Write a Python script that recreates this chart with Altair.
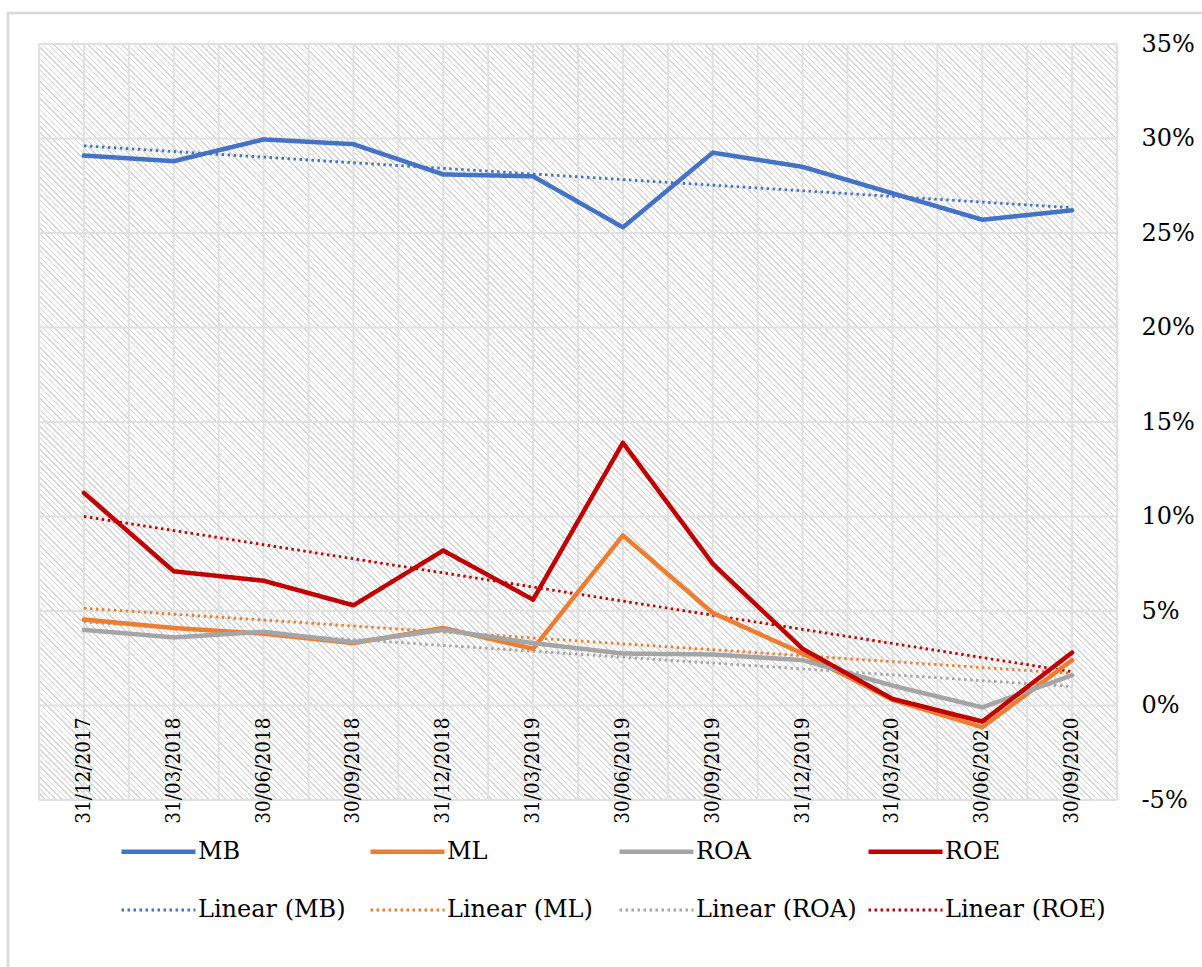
import math
import altair as alt
import pandas as pd

# ---- data ----
dates = ["31/12/2017", "31/03/2018", "30/06/2018", "30/09/2018", "31/12/2018", "31/03/2019",
         "30/06/2019", "30/09/2019", "31/12/2019", "31/03/2020", "30/06/2020", "30/09/2020"]
mb = [29.1, 28.8, 29.95, 29.7, 28.1, 28.0, 25.3, 29.25, 28.5, 27.1, 25.7, 26.2]
ml = [4.55, 4.1, 3.8, 3.3, 4.1, 3.0, 9.0, 4.9, 2.75, 0.3, -1.15, 2.4]
roa = [4.0, 3.6, 3.9, 3.35, 4.0, 3.3, 2.75, 2.7, 2.4, 1.05, -0.1, 1.6]
roe = [11.25, 7.1, 6.6, 5.3, 8.2, 5.6, 13.9, 7.5, 3.0, 0.35, -0.85, 2.8]
series_names = ["MB", "ML", "ROA", "ROE"]
trend_names = ["Linear (MB)", "Linear (ML)", "Linear (ROA)", "Linear (ROE)"]
colors = ["#4472C4", "#ED7D31", "#A5A5A5", "#C00000"]
y_ticks = [-5, 0, 5, 10, 15, 20, 25, 30, 35]

rows = []
for name, vals in zip(series_names, [mb, ml, roa, roe]):
    for i, v in enumerate(vals):
        rows.append({"series": name, "idx": i, "value": v})
df = pd.DataFrame(rows)
labels_df = pd.DataFrame({"idx": list(range(len(dates))), "date": dates})
hgrid_df = pd.DataFrame({"value": y_ticks})
vgrid_df = pd.DataFrame({"idx": [i / 2 - 0.5 for i in range(2 * len(dates) + 1)]})
one = pd.DataFrame({"a": [0]})

W, H = 1078, 756
FONT_X = "DejaVu Serif Condensed, DejaVu Serif"
FONT = "DejaVu Serif"

# ---- hatched background as a striped linear gradient ----
t = (W + H) / (W * W + H * H)
L = (W + H) / math.sqrt(2)
period, lw = 4.0, 1.0
n = int(L / period)
stops = []
for k in range(n):
    a = k / n
    b = (k + lw / period) / n
    stops += [alt.GradientStop(offset=a, color="#d6d6d6"),
              alt.GradientStop(offset=b, color="#d6d6d6"),
              alt.GradientStop(offset=b, color="#ffffff"),
              alt.GradientStop(offset=(k + 1) / n, color="#ffffff")]
hatch_grad = alt.LinearGradient(gradient="linear", stops=stops,
                                x1=0, y1=1, x2=t * W, y2=1 - t * H)

xscale = alt.Scale(domain=[-0.5, len(dates) - 0.5], nice=False, zero=False)
yscale = alt.Scale(domain=[-5, 35], nice=False, zero=False)

all_names = series_names + trend_names
legend = alt.Legend(title=None, orient="none", legendX=107, legendY=795,
                    direction="horizontal", columns=4, gridAlign="all", padding=0,
                    symbolType="M-3.7,0H3.7", symbolSize=400,
                    labelFont=FONT, labelFontSize=24, labelColor="black", labelLimit=400,
                    labelOffset=27, columnPadding=2, rowPadding=34)
color_enc = alt.Color("series:N", scale=alt.Scale(domain=all_names, range=colors + colors), legend=legend)
dash_enc = alt.StrokeDash("series:N", scale=alt.Scale(domain=all_names,
                          range=[[1, 0]] * 4 + [[2.5, 3.5]] * 4), legend=legend)
sw_enc = alt.StrokeWidth("series:N", scale=alt.Scale(type="ordinal", domain=all_names,
                         range=[4.5] * 4 + [2.8] * 4), legend=legend)

border = alt.Chart(one).mark_rect(fillOpacity=0, stroke="#d9d9d9", strokeWidth=2.5).encode(
    x=alt.value(-31), x2=alt.value(1300), y=alt.value(-31), y2=alt.value(1100))

hatch = alt.Chart(one).mark_rect(fill=hatch_grad).encode(
    x=alt.value(0), x2=alt.value(W), y=alt.value(0), y2=alt.value(H))

hgrid = alt.Chart(hgrid_df).mark_rule(color="#e0e0e0", strokeWidth=2).encode(
    y=alt.Y("value:Q", scale=yscale,
            axis=alt.Axis(orient="right", values=y_ticks, labelExpr="datum.value + '%'",
                          grid=False, domain=False, ticks=False, title=None,
                          labelFont=FONT, labelFontSize=24, labelColor="black",
                          labelPadding=24, labelAlign="left")))

vgrid = alt.Chart(vgrid_df).mark_rule(color="#e0e0e0", strokeWidth=2).encode(
    x=alt.X("idx:Q", scale=xscale, axis=None))

xlabels = alt.Chart(labels_df).mark_text(angle=270, align="right", baseline="middle", dx=-12,
                                         font=FONT_X, fontSize=20.5, color="black").encode(
    x=alt.X("idx:Q", scale=xscale, axis=None), y=alt.datum(0), text="date:N")

trend = alt.Chart(df).transform_regression(
    "idx", "value", groupby=["series"]
).transform_calculate(
    series="'Linear (' + datum.series + ')'"
).mark_line(strokeCap="butt").encode(
    x=alt.X("idx:Q", scale=xscale, axis=None),
    y=alt.Y("value:Q", scale=yscale),
    color=color_enc, strokeDash=dash_enc, strokeWidth=sw_enc)

lines = alt.Chart(df).mark_line(strokeJoin="round", strokeCap="round").encode(
    x=alt.X("idx:Q", scale=xscale, axis=None),
    y=alt.Y("value:Q", scale=yscale),
    color=color_enc, strokeDash=dash_enc, strokeWidth=sw_enc)

chart = alt.layer(border, hatch, hgrid, vgrid, xlabels, trend, lines).properties(
    width=W, height=H,
    autosize=alt.AutoSizeParams(type="none"),
    padding={"left": 39, "top": 44, "right": 85, "bottom": 167},
    background="white",
).configure_view(stroke=None)

chart.save("out.html", embed_options={"renderer": "svg", "actions": False})
